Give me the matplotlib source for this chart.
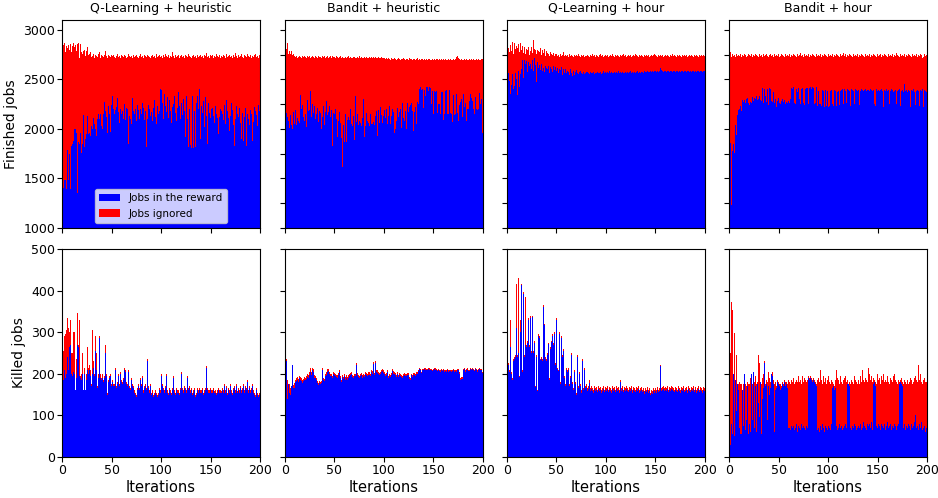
import numpy as np
import matplotlib
matplotlib.use('Agg')
import matplotlib.pyplot as plt

# Values, one value per iteration (0..199)
titles = ['Q-Learning + heuristic', 'Bandit + heuristic', 'Q-Learning + hour', 'Bandit + hour']
iterations = np.arange(200)

# ---- Finished jobs: total and the part counted in the reward ----
fin_total_qh = [
    2800, 2850, 2870, 2780, 2840, 2820, 2850, 2800, 2860, 2780,
    2840, 2870, 2830, 2850, 2790, 2860, 2870, 2720, 2860, 2780,
    2760, 2790, 2800, 2740, 2790, 2830, 2750, 2760, 2780, 2730,
    2740, 2760, 2720, 2750, 2740, 2730, 2760, 2780, 2720, 2750,
    2740, 2730, 2750, 2790, 2740, 2720, 2750, 2740, 2730, 2750,
    2730, 2740, 2750, 2730, 2720, 2740, 2760, 2730, 2740, 2720,
    2750, 2740, 2730, 2750, 2740, 2720, 2730, 2760, 2740, 2730,
    2740, 2720, 2750, 2730, 2740, 2750, 2730, 2720, 2740, 2760,
    2730, 2740, 2720, 2750, 2740, 2730, 2750, 2740, 2730, 2720,
    2740, 2750, 2730, 2740, 2720, 2760, 2730, 2740, 2750, 2730,
    2740, 2720, 2750, 2730, 2760, 2740, 2730, 2750, 2720, 2740,
    2730, 2780, 2740, 2720, 2750, 2730, 2740, 2750, 2720, 2740,
    2750, 2730, 2740, 2720, 2750, 2740, 2730, 2760, 2740, 2730,
    2720, 2740, 2750, 2730, 2740, 2720, 2750, 2730, 2740, 2750,
    2730, 2740, 2720, 2750, 2740, 2770, 2730, 2740, 2720, 2750,
    2740, 2730, 2750, 2720, 2740, 2730, 2760, 2740, 2730, 2750,
    2720, 2740, 2730, 2750, 2740, 2720, 2760, 2730, 2740, 2750,
    2730, 2740, 2720, 2750, 2730, 2770, 2740, 2720, 2750, 2730,
    2740, 2760, 2730, 2720, 2750, 2740, 2730, 2760, 2740, 2730,
    2750, 2720, 2740, 2730, 2750, 2760, 2730, 2740, 2720, 2750]
fin_reward_qh = [
    1480, 1400, 1480, 1480, 1390, 1790, 1480, 1750, 1390, 1830,
    1850, 1880, 2000, 2000, 1960, 1350, 1870, 1850, 1960, 1760,
    1850, 2140, 1820, 1900, 1950, 2130, 1950, 1960, 1930, 2030,
    2000, 2110, 2050, 2000, 1930, 2100, 2150, 2100, 2150, 2030,
    2000, 2150, 2270, 2180, 2120, 1960, 2230, 2150, 1970, 2240,
    2280, 2330, 2200, 2150, 2190, 2220, 2310, 2170, 2060, 2200,
    2150, 2180, 2100, 2250, 2090, 2210, 2200, 1850, 2130, 2100,
    2050, 2310, 2180, 2150, 2200, 2080, 2240, 2190, 2100, 2200,
    2150, 2260, 2210, 2090, 2180, 1820, 2100, 2240, 2200, 2130,
    2170, 2080, 2210, 2290, 2120, 2050, 2230, 2150, 2180, 2400,
    2390, 2260, 2100, 2350, 2230, 2170, 2320, 2110, 2290, 2180,
    2060, 2220, 2250, 2330, 2160, 2080, 2210, 2370, 2230, 2100,
    2260, 2140, 2300, 2180, 1920, 2330, 2100, 1820, 2200, 1840,
    1810, 2330, 1810, 2180, 1820, 2260, 2330, 2200, 2400, 1900,
    2230, 2160, 2280, 2020, 2320, 2130, 1850, 2260, 2160, 2110,
    2200, 2090, 2210, 2130, 2060, 2230, 2150, 2110, 1950, 2120,
    2200, 2180, 2150, 2090, 2240, 2050, 2290, 2180, 2110, 1980,
    2130, 2260, 2190, 2040, 1830, 2100, 2230, 2150, 2120, 2210,
    2060, 1900, 2160, 1880, 2120, 2210, 1830, 2150, 2100, 2040,
    2190, 2150, 1880, 2070, 2220, 2180, 2140, 2030, 2240, 2180]

fin_total_bh = [
    2840, 2810, 2870, 2760, 2790, 2760, 2790, 2750, 2760, 2740,
    2730, 2740, 2720, 2730, 2740, 2730, 2720, 2740, 2730, 2740,
    2730, 2720, 2740, 2730, 2740, 2720, 2730, 2740, 2730, 2720,
    2740, 2730, 2720, 2740, 2730, 2730, 2720, 2740, 2730, 2740,
    2720, 2730, 2740, 2720, 2730, 2740, 2730, 2720, 2740, 2730,
    2730, 2720, 2740, 2730, 2720, 2730, 2740, 2720, 2730, 2720,
    2720, 2730, 2720, 2730, 2740, 2720, 2730, 2720, 2720, 2730,
    2730, 2720, 2720, 2730, 2720, 2740, 2720, 2730, 2720, 2720,
    2730, 2720, 2730, 2720, 2720, 2730, 2720, 2730, 2720, 2730,
    2720, 2730, 2720, 2720, 2730, 2720, 2720, 2730, 2720, 2720,
    2720, 2710, 2720, 2710, 2720, 2710, 2700, 2720, 2710, 2710,
    2720, 2710, 2700, 2710, 2720, 2710, 2700, 2710, 2710, 2720,
    2710, 2700, 2710, 2710, 2700, 2720, 2710, 2710, 2700, 2710,
    2710, 2700, 2710, 2720, 2700, 2710, 2700, 2710, 2710, 2700,
    2710, 2700, 2710, 2700, 2710, 2710, 2700, 2710, 2700, 2710,
    2700, 2710, 2700, 2710, 2710, 2700, 2710, 2700, 2710, 2700,
    2710, 2700, 2710, 2700, 2700, 2710, 2700, 2710, 2700, 2700,
    2710, 2700, 2710, 2730, 2740, 2720, 2710, 2700, 2710, 2700,
    2700, 2710, 2700, 2710, 2700, 2700, 2710, 2700, 2710, 2700,
    2710, 2700, 2700, 2710, 2700, 2710, 2700, 2700, 2710, 2710]
fin_reward_bh = [
    2090, 2160, 2120, 2080, 2010, 2140, 2040, 2000, 2170, 2050,
    2190, 2040, 2110, 2080, 2060, 2340, 2200, 2240, 2120, 2080,
    2150, 2020, 2290, 2180, 2190, 2380, 2120, 2250, 2160, 2230,
    2100, 2150, 2210, 2070, 2180, 2160, 2000, 2120, 2230, 2040,
    2170, 2280, 2140, 2170, 2230, 2120, 2000, 2190, 1830, 2160,
    2150, 2200, 2100, 1920, 2080, 2170, 2060, 1910, 1620, 2040,
    1870, 2150, 1870, 2090, 2120, 2090, 2200, 2050, 2030, 2130,
    1890, 2330, 2070, 2150, 2040, 2080, 2060, 2030, 2110, 2300,
    1920, 2030, 2160, 2080, 2060, 2030, 2150, 2050, 2050, 2070,
    2040, 2130, 2180, 1930, 2190, 2060, 2220, 2140, 2060, 2130,
    2190, 2110, 2200, 2050, 2130, 2230, 2050, 2130, 2200, 2170,
    1960, 2000, 2080, 2210, 2120, 2170, 2200, 2010, 2260, 2110,
    2080, 2180, 2000, 2260, 2170, 2220, 2240, 2260, 2180, 1980,
    2170, 2220, 2050, 2270, 2250, 2400, 2420, 2390, 2400, 2210,
    2390, 2330, 2420, 2420, 2380, 2420, 2410, 2380, 2250, 2380,
    2150, 2380, 2370, 2380, 2160, 2250, 2250, 2150, 2370, 2370,
    2090, 2150, 2380, 2390, 2150, 2150, 2390, 2160, 2150, 2070,
    2340, 2140, 2150, 2350, 2160, 2080, 2240, 2270, 2300, 2120,
    2350, 2220, 2260, 2080, 2200, 2200, 2280, 2350, 2310, 2280,
    2200, 2150, 2320, 2200, 2190, 2200, 2360, 2250, 2300, 1960]

fin_total_qr = [
    2800, 2820, 2780, 2850, 2790, 2880, 2760, 2870, 2810, 2840,
    2820, 2860, 2780, 2870, 2800, 2840, 2770, 2830, 2760, 2810,
    2800, 2830, 2750, 2790, 2830, 2770, 2900, 2810, 2800, 2760,
    2800, 2790, 2780, 2820, 2750, 2800, 2770, 2810, 2740, 2790,
    2770, 2760, 2740, 2780, 2760, 2750, 2770, 2740, 2760, 2790,
    2760, 2740, 2750, 2730, 2760, 2740, 2750, 2780, 2740, 2750,
    2740, 2750, 2730, 2760, 2740, 2750, 2740, 2730, 2750, 2740,
    2750, 2740, 2760, 2740, 2730, 2750, 2740, 2750, 2730, 2740,
    2740, 2750, 2740, 2730, 2750, 2740, 2760, 2740, 2750, 2730,
    2750, 2740, 2730, 2750, 2760, 2740, 2750, 2730, 2740, 2750,
    2740, 2750, 2730, 2740, 2750, 2740, 2760, 2740, 2730, 2750,
    2740, 2750, 2740, 2730, 2750, 2740, 2750, 2760, 2740, 2750,
    2730, 2740, 2750, 2740, 2750, 2730, 2740, 2750, 2740, 2760,
    2750, 2740, 2730, 2750, 2740, 2750, 2740, 2730, 2750, 2740,
    2750, 2740, 2750, 2730, 2740, 2750, 2740, 2750, 2760, 2740,
    2750, 2740, 2730, 2750, 2740, 2750, 2740, 2750, 2730, 2740,
    2750, 2740, 2750, 2740, 2730, 2750, 2740, 2760, 2740, 2750,
    2740, 2730, 2750, 2740, 2750, 2740, 2730, 2750, 2740, 2750,
    2740, 2750, 2730, 2740, 2750, 2740, 2750, 2740, 2730, 2750,
    2740, 2750, 2740, 2730, 2750, 2740, 2750, 2740, 2750, 2740]
fin_reward_qr = [
    2540, 2560, 2480, 2350, 2440, 2550, 2400, 2430, 2560, 2500,
    2340, 2580, 2420, 2550, 2600, 2700, 2510, 2700, 2660, 2690,
    2570, 2680, 2640, 2660, 2610, 2700, 2580, 2720, 2650, 2470,
    2680, 2620, 2650, 2590, 2660, 2580, 2620, 2570, 2640, 2620,
    2600, 2640, 2560, 2630, 2610, 2570, 2640, 2590, 2630, 2620,
    2580, 2620, 2560, 2610, 2590, 2630, 2540, 2600, 2560, 2600,
    2560, 2580, 2570, 2540, 2600, 2560, 2530, 2580, 2540, 2570,
    2590, 2560, 2550, 2570, 2580, 2560, 2550, 2570, 2550, 2560,
    2570, 2570, 2560, 2550, 2570, 2560, 2560, 2570, 2550, 2560,
    2560, 2570, 2560, 2560, 2570, 2550, 2560, 2580, 2560, 2570,
    2560, 2570, 2560, 2580, 2560, 2570, 2560, 2560, 2570, 2560,
    2570, 2560, 2580, 2560, 2570, 2560, 2570, 2560, 2560, 2570,
    2560, 2570, 2560, 2570, 2580, 2560, 2570, 2560, 2570, 2560,
    2570, 2580, 2560, 2570, 2560, 2570, 2570, 2560, 2580, 2570,
    2570, 2580, 2570, 2570, 2580, 2570, 2580, 2570, 2580, 2570,
    2580, 2570, 2580, 2570, 2580, 2620, 2590, 2580, 2570, 2580,
    2580, 2570, 2580, 2580, 2570, 2580, 2580, 2570, 2580, 2580,
    2570, 2580, 2580, 2570, 2580, 2570, 2580, 2580, 2570, 2580,
    2580, 2570, 2580, 2580, 2570, 2580, 2570, 2580, 2580, 2570,
    2580, 2570, 2580, 2580, 2570, 2580, 2580, 2570, 2580, 2580]

fin_total_br = [
    2900, 2780, 2730, 2760, 2740, 2750, 2730, 2760, 2740, 2750,
    2740, 2760, 2730, 2750, 2740, 2760, 2750, 2730, 2740, 2760,
    2750, 2740, 2760, 2730, 2750, 2740, 2760, 2750, 2740, 2730,
    2760, 2740, 2750, 2730, 2760, 2740, 2750, 2760, 2740, 2730,
    2750, 2760, 2740, 2750, 2730, 2760, 2740, 2750, 2740, 2760,
    2730, 2750, 2740, 2760, 2750, 2740, 2730, 2760, 2740, 2750,
    2740, 2760, 2730, 2750, 2740, 2760, 2750, 2740, 2730, 2760,
    2740, 2750, 2770, 2740, 2750, 2730, 2760, 2740, 2750, 2740,
    2760, 2730, 2750, 2740, 2760, 2750, 2740, 2730, 2760, 2740,
    2750, 2740, 2760, 2730, 2750, 2740, 2760, 2750, 2740, 2730,
    2760, 2740, 2750, 2740, 2760, 2730, 2750, 2740, 2760, 2750,
    2740, 2730, 2760, 2740, 2750, 2770, 2740, 2760, 2730, 2750,
    2740, 2760, 2750, 2740, 2730, 2760, 2740, 2750, 2740, 2760,
    2730, 2750, 2740, 2760, 2750, 2740, 2730, 2760, 2740, 2750,
    2740, 2760, 2730, 2750, 2740, 2760, 2750, 2740, 2730, 2760,
    2740, 2750, 2740, 2760, 2730, 2750, 2740, 2760, 2750, 2740,
    2730, 2760, 2740, 2750, 2740, 2760, 2730, 2750, 2740, 2770,
    2750, 2740, 2730, 2760, 2740, 2750, 2740, 2760, 2730, 2750,
    2740, 2760, 2750, 2740, 2730, 2760, 2740, 2750, 2740, 2760,
    2730, 2750, 2740, 2760, 2750, 2720, 2730, 2760, 2740, 2750]
fin_reward_br = [
    2300, 1860, 1230, 1780, 1850, 1760, 2040, 1940, 2140, 2190,
    2200, 2230, 2180, 2290, 2270, 2290, 2260, 2300, 2310, 2260,
    2240, 2270, 2260, 2320, 2280, 2310, 2300, 2330, 2290, 2300,
    2330, 2290, 2280, 2410, 2260, 2400, 2330, 2270, 2400, 2240,
    2410, 2400, 2280, 2270, 2370, 2260, 2300, 2220, 2280, 2310,
    2260, 2260, 2250, 2280, 2300, 2270, 2290, 2250, 2270, 2260,
    2280, 2260, 2300, 2410, 2400, 2420, 2260, 2250, 2400, 2370,
    2410, 2300, 2250, 2400, 2410, 2260, 2240, 2400, 2410, 2410,
    2250, 2410, 2420, 2400, 2420, 2410, 2250, 2260, 2420, 2230,
    2380, 2250, 2250, 2230, 2390, 2380, 2220, 2390, 2230, 2380,
    2220, 2230, 2380, 2390, 2250, 2230, 2390, 2380, 2230, 2370,
    2380, 2240, 2380, 2390, 2400, 2250, 2400, 2380, 2260, 2400,
    2390, 2380, 2230, 2400, 2390, 2380, 2250, 2400, 2390, 2380,
    2390, 2240, 2380, 2400, 2390, 2380, 2390, 2400, 2380, 2390,
    2390, 2380, 2400, 2390, 2380, 2390, 2250, 2230, 2400, 2380,
    2390, 2380, 2250, 2390, 2400, 2380, 2220, 2390, 2380, 2400,
    2380, 2390, 2250, 2380, 2400, 2390, 2370, 2380, 2390, 2250,
    2380, 2390, 2400, 2230, 2380, 2390, 2370, 2450, 2380, 2390,
    2370, 2390, 2380, 2220, 2390, 2380, 2400, 2370, 2240, 2380,
    2390, 2380, 2230, 2390, 2380, 2400, 2220, 2390, 2380, 2370]

# ---- Killed jobs: total and the part counted in the reward ----
kill_total_qh = [
    290, 255, 290, 295, 305, 335, 310, 300, 330, 250,
    250, 300, 300, 160, 235, 345, 270, 330, 195, 200,
    250, 160, 215, 160, 200, 265, 215, 220, 210, 175,
    305, 230, 200, 290, 250, 170, 200, 290, 200, 190,
    200, 185, 195, 270, 200, 155, 185, 195, 200, 175,
    210, 185, 175, 175, 215, 170, 180, 200, 175, 205,
    185, 180, 190, 215, 210, 180, 175, 210, 170, 165,
    190, 175, 170, 160, 155, 150, 165, 175, 165, 190,
    175, 195, 160, 170, 175, 165, 235, 170, 160, 175,
    155, 160, 150, 155, 160, 155, 150, 155, 165, 160,
    200, 175, 165, 160, 170, 200, 160, 155, 165, 160,
    155, 165, 195, 160, 155, 165, 160, 160, 155, 165,
    205, 165, 160, 170, 165, 160, 195, 165, 170, 160,
    165, 155, 160, 165, 150, 155, 165, 160, 165, 160,
    160, 165, 155, 160, 165, 218, 165, 160, 160, 165,
    160, 155, 160, 165, 158, 160, 155, 160, 165, 160,
    160, 158, 165, 160, 175, 160, 170, 155, 165, 160,
    175, 160, 155, 165, 170, 160, 175, 158, 165, 160,
    170, 160, 165, 175, 160, 170, 165, 185, 160, 170,
    160, 165, 175, 160, 155, 150, 165, 155, 150, 155]
kill_reward_qh = [
    230, 185, 210, 190, 200, 240, 210, 265, 270, 200,
    195, 205, 200, 160, 190, 270, 265, 195, 190, 185,
    200, 160, 200, 160, 185, 210, 200, 210, 195, 170,
    200, 215, 195, 255, 210, 165, 190, 285, 190, 185,
    190, 180, 190, 250, 195, 150, 180, 190, 195, 170,
    205, 180, 170, 170, 210, 165, 175, 195, 170, 200,
    180, 175, 185, 210, 205, 175, 170, 205, 165, 160,
    185, 170, 165, 155, 150, 145, 160, 170, 160, 185,
    170, 190, 155, 165, 170, 160, 230, 165, 155, 170,
    150, 155, 145, 150, 155, 150, 145, 150, 160, 155,
    195, 170, 160, 155, 165, 195, 155, 150, 160, 155,
    150, 160, 190, 155, 150, 160, 155, 155, 150, 160,
    200, 160, 155, 165, 160, 155, 190, 160, 165, 155,
    160, 150, 155, 160, 145, 150, 160, 155, 160, 155,
    155, 160, 150, 155, 160, 215, 160, 155, 155, 160,
    155, 150, 155, 160, 153, 155, 150, 155, 160, 155,
    155, 153, 160, 155, 170, 155, 165, 150, 160, 155,
    170, 155, 150, 160, 165, 155, 170, 153, 160, 155,
    165, 155, 160, 170, 155, 165, 160, 180, 155, 165,
    155, 160, 170, 155, 150, 145, 160, 150, 145, 150]

kill_total_bh = [
    242, 235, 185, 175, 175, 165, 170, 222, 172, 178,
    185, 190, 192, 188, 195, 193, 190, 185, 188, 192,
    190, 195, 200, 198, 205, 213, 205, 215, 212, 198,
    195, 190, 182, 178, 183, 180, 182, 215, 190, 188,
    200, 205, 212, 212, 205, 200, 198, 200, 195, 205,
    203, 200, 198, 196, 202, 210, 195, 185, 198, 193,
    200, 192, 196, 192, 196, 200, 203, 205, 198, 195,
    200, 200, 226, 203, 198, 195, 200, 202, 196, 200,
    198, 205, 203, 200, 205, 205, 200, 210, 207, 228,
    202, 230, 210, 208, 205, 202, 205, 210, 212, 208,
    205, 200, 203, 210, 195, 200, 198, 203, 212, 206,
    205, 203, 198, 205, 198, 203, 200, 197, 195, 200,
    203, 200, 200, 203, 203, 192, 190, 200, 198, 203,
    203, 200, 205, 205, 210, 215, 212, 205, 212, 212,
    215, 213, 212, 212, 215, 213, 212, 212, 212, 210,
    212, 215, 213, 212, 210, 212, 210, 208, 212, 210,
    212, 208, 210, 208, 212, 208, 210, 210, 208, 210,
    212, 208, 210, 208, 212, 212, 205, 190, 192, 192,
    212, 215, 208, 212, 213, 210, 210, 215, 212, 215,
    212, 210, 215, 212, 208, 212, 215, 212, 212, 205]
kill_reward_bh = [
    240, 230, 140, 175, 155, 150, 170, 220, 165, 165,
    180, 182, 185, 180, 190, 186, 182, 178, 182, 185,
    185, 188, 192, 190, 198, 205, 198, 210, 205, 190,
    190, 185, 178, 172, 178, 175, 178, 210, 185, 182,
    195, 198, 205, 206, 200, 195, 192, 195, 190, 200,
    198, 195, 192, 190, 196, 205, 190, 180, 192, 188,
    195, 186, 190, 186, 190, 195, 198, 200, 192, 190,
    195, 195, 222, 198, 192, 190, 195, 196, 190, 195,
    192, 200, 198, 195, 198, 198, 195, 204, 200, 224,
    196, 226, 204, 202, 200, 196, 200, 205, 206, 202,
    200, 195, 198, 205, 190, 195, 192, 198, 206, 200,
    200, 198, 192, 200, 193, 198, 195, 192, 190, 195,
    198, 195, 195, 198, 198, 188, 185, 196, 193, 198,
    198, 195, 200, 200, 206, 212, 208, 202, 208, 208,
    212, 210, 208, 208, 212, 210, 208, 208, 208, 206,
    208, 212, 210, 208, 206, 208, 206, 204, 208, 206,
    208, 204, 206, 204, 208, 204, 206, 206, 204, 206,
    208, 204, 206, 204, 208, 208, 200, 186, 188, 188,
    208, 212, 204, 208, 210, 206, 206, 212, 208, 212,
    208, 206, 212, 208, 204, 208, 212, 208, 208, 202]

kill_total_qr = [
    292, 226, 210, 330, 205, 190, 235, 240, 245, 415,
    245, 430, 195, 330, 415, 210, 397, 245, 385, 270,
    280, 335, 270, 340, 255, 340, 255, 280, 170, 245,
    160, 295, 290, 235, 240, 235, 365, 320, 240, 235,
    250, 275, 190, 265, 280, 295, 275, 300, 225, 245,
    335, 215, 210, 300, 180, 290, 245, 260, 195, 175,
    215, 210, 215, 175, 195, 250, 180, 165, 210, 180,
    155, 245, 170, 205, 175, 160, 235, 165, 215, 170,
    175, 165, 170, 185, 165, 170, 165, 160, 170, 165,
    168, 162, 170, 165, 168, 160, 165, 170, 162, 168,
    165, 170, 162, 168, 165, 160, 170, 165, 168, 162,
    170, 165, 168, 160, 185, 165, 170, 162, 168, 165,
    170, 165, 162, 168, 165, 170, 160, 168, 165, 162,
    168, 165, 170, 160, 165, 168, 162, 165, 158, 165,
    162, 168, 160, 165, 155, 160, 158, 165, 160, 168,
    165, 160, 168, 162, 165, 220, 165, 168, 170, 165,
    168, 165, 170, 162, 168, 165, 170, 168, 165, 162,
    168, 165, 162, 170, 165, 160, 168, 165, 170, 162,
    165, 168, 160, 170, 165, 162, 168, 165, 170, 162,
    168, 160, 165, 170, 162, 168, 165, 160, 168, 165]
kill_reward_qr = [
    290, 222, 205, 265, 200, 185, 230, 235, 240, 310,
    240, 250, 192, 300, 413, 205, 392, 240, 270, 265,
    275, 330, 265, 335, 250, 336, 250, 275, 168, 240,
    158, 290, 286, 232, 236, 230, 360, 317, 236, 230,
    246, 272, 186, 260, 276, 290, 270, 296, 222, 240,
    330, 212, 206, 296, 176, 286, 240, 256, 190, 170,
    210, 205, 210, 170, 190, 245, 176, 160, 205, 175,
    150, 240, 165, 200, 170, 155, 230, 160, 210, 165,
    168, 158, 164, 178, 158, 163, 159, 154, 163, 158,
    161, 156, 163, 158, 161, 154, 158, 164, 156, 161,
    158, 163, 156, 161, 158, 153, 164, 158, 161, 156,
    163, 158, 161, 154, 180, 158, 163, 156, 161, 158,
    163, 158, 156, 161, 158, 163, 154, 161, 158, 156,
    161, 158, 163, 154, 158, 161, 156, 158, 152, 158,
    156, 161, 154, 158, 149, 153, 151, 158, 153, 161,
    158, 153, 161, 156, 158, 218, 158, 161, 163, 158,
    161, 158, 163, 156, 161, 158, 163, 161, 158, 156,
    161, 158, 156, 163, 158, 153, 161, 158, 163, 156,
    158, 161, 153, 163, 158, 156, 161, 158, 163, 156,
    161, 153, 158, 163, 156, 161, 158, 153, 161, 158]

kill_total_br = [
    290, 250, 372, 353, 200, 298, 185, 245, 175, 175,
    180, 175, 175, 160, 175, 200, 175, 170, 180, 175,
    175, 190, 200, 175, 205, 180, 195, 175, 180, 245,
    225, 180, 175, 190, 200, 230, 175, 185, 180, 205,
    190, 180, 200, 205, 185, 175, 180, 170, 185, 180,
    175, 180, 175, 170, 180, 175, 185, 180, 180, 175,
    185, 180, 175, 185, 180, 190, 175, 180, 185, 180,
    195, 180, 185, 175, 195, 180, 190, 185, 180, 185,
    195, 190, 195, 190, 185, 190, 185, 180, 175, 185,
    190, 180, 210, 185, 175, 195, 180, 190, 175, 185,
    195, 180, 175, 185, 180, 175, 170, 185, 210, 190,
    185, 175, 195, 180, 175, 185, 190, 195, 180, 185,
    175, 180, 175, 185, 180, 175, 195, 185, 180, 175,
    185, 175, 195, 180, 210, 185, 180, 190, 185, 180,
    215, 200, 185, 195, 180, 190, 185, 180, 175, 200,
    185, 190, 180, 175, 195, 185, 200, 180, 185, 180,
    195, 180, 175, 190, 185, 180, 195, 200, 185, 180,
    175, 185, 180, 185, 190, 180, 175, 185, 180, 175,
    185, 175, 180, 190, 185, 175, 180, 190, 195, 185,
    180, 220, 185, 200, 180, 175, 185, 190, 180, 180]
kill_reward_br = [
    290, 30, 80, 55, 200, 50, 185, 110, 175, 160,
    70, 55, 55, 160, 75, 200, 65, 90, 170, 55,
    80, 60, 200, 90, 205, 70, 170, 60, 175, 130,
    95, 180, 55, 140, 165, 225, 170, 175, 90, 170,
    150, 165, 200, 195, 175, 60, 160, 165, 180, 175,
    170, 175, 160, 165, 175, 170, 180, 170, 175, 165,
    70, 70, 65, 75, 70, 75, 65, 70, 80, 60,
    75, 70, 65, 80, 70, 75, 70, 65, 75, 70,
    190, 185, 190, 185, 180, 185, 180, 175, 170, 65,
    70, 60, 75, 65, 80, 70, 60, 75, 70, 65,
    75, 70, 65, 80, 165, 170, 160, 165, 75, 65,
    70, 80, 70, 75, 65, 70, 75, 80, 70, 175,
    175, 170, 70, 65, 75, 70, 80, 75, 65, 70,
    75, 70, 80, 65, 70, 85, 75, 70, 65, 80,
    75, 80, 70, 85, 65, 175, 180, 170, 75, 70,
    80, 75, 70, 65, 80, 75, 70, 80, 65, 75,
    85, 70, 75, 80, 65, 75, 70, 80, 75, 65,
    75, 80, 175, 180, 175, 170, 70, 80, 65, 75,
    70, 80, 75, 65, 80, 70, 75, 85, 100, 70,
    75, 65, 80, 70, 85, 65, 70, 75, 60, 70]

finished = [(fin_total_qh, fin_reward_qh), (fin_total_bh, fin_reward_bh),
            (fin_total_qr, fin_reward_qr), (fin_total_br, fin_reward_br)]
killed = [(kill_total_qh, kill_reward_qh), (kill_total_bh, kill_reward_bh),
          (kill_total_qr, kill_reward_qr), (kill_total_br, kill_reward_br)]

fig = plt.figure(figsize=(9.38, 4.98), dpi=100)

lefts = [0.0661, 0.3038, 0.5405, 0.7772]
width = 0.2111
height = 0.4177

for col in range(4):
    for row in range(2):
        bottom = 0.5422 if row == 0 else 0.0823
        ax = fig.add_axes([lefts[col], bottom, width, height])
        total, reward = (finished if row == 0 else killed)[col]
        total = np.array(total)
        reward = np.array(reward)
        # reward part in blue, the ignored part stacked on top in red
        ax.bar(iterations, reward, width=1, align='edge', color='blue',
               linewidth=0, label='Jobs in the reward')
        ax.bar(iterations, total - reward, width=1, align='edge', bottom=reward,
               color='red', linewidth=0, label='Jobs ignored')
        ax.set_xlim(0, 200)
        ax.set_xticks([0, 50, 100, 150, 200])
        ax.tick_params(labelsize=9, pad=1.5)
        if row == 0:
            ax.set_ylim(1000, 3100)
            ax.set_title(titles[col], fontsize=9)
            ax.tick_params(labelbottom=False)
            if col == 0:
                ax.set_yticks([1000, 1500, 2000, 2500, 3000])
                ax.set_ylabel('Finished jobs', fontsize=10)
                ax.legend(loc='lower center', fontsize=7.5)
            else:
                ax.set_yticks(np.arange(1000, 3001, 250))
                ax.tick_params(labelleft=False)
        else:
            ax.set_ylim(0, 500)
            ax.set_yticks([0, 100, 200, 300, 400, 500])
            ax.set_xlabel('Iterations', fontsize=10.5, labelpad=2)
            if col == 0:
                ax.set_ylabel('Killed jobs', fontsize=10)
            else:
                ax.tick_params(labelleft=False)

fig.savefig('out.png', dpi=100)
